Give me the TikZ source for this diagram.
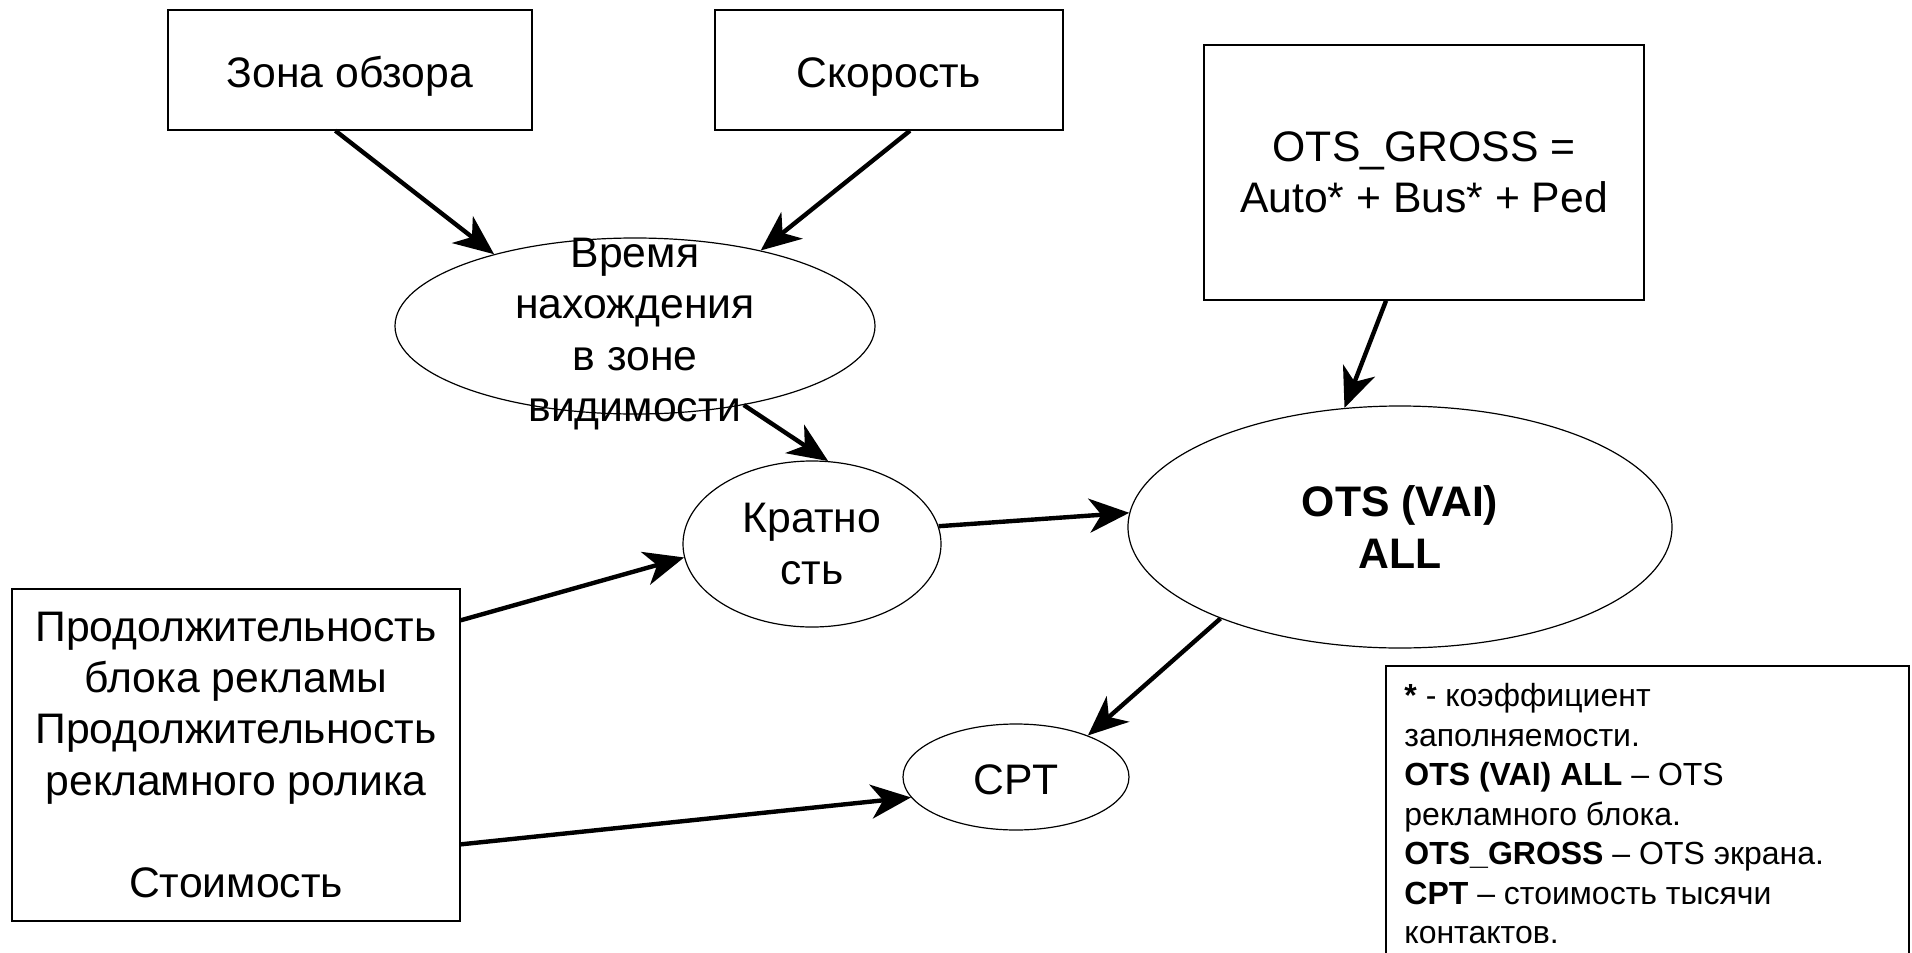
\documentclass[tikz,border=0pt]{standalone}
\usepackage{fontspec}
\setmainfont{Liberation Sans}
\usepackage{tikz}
\usetikzlibrary{shapes.geometric,arrows.meta,positioning,calc}
\tikzset{
  box/.style={draw,line width=0.7pt,rectangle,inner sep=0pt,align=center,font=\fontsize{21.35}{25.6}\selectfont},
  oval/.style={draw,line width=0.6pt,ellipse,inner sep=0pt,align=center,font=\fontsize{21.35}{25.6}\selectfont},
  ovaltext/.style={inner sep=0pt,align=center,font=\fontsize{21.35}{25.6}\selectfont},
  drop/.style={execute at begin node={\rule{0pt}{#1}}},
  legendtext/.style={inner sep=0pt,align=left,font=\fontsize{16}{19.75}\selectfont},
  flow/.style={line width=2.2pt,-{Stealth[length=20pt,width=17pt,inset=6pt]}},
}
\newcommand{\flowarrow}[2]{\draw[flow] #1 -- #2;}

\begin{document}
\begin{tikzpicture}[x=0.5pt,y=-0.5pt]
\useasboundingbox (0,0) rectangle (1912,953);
\node[box,drop=21.5pt,minimum width=182pt,minimum height=60pt] (zona) at (350,70) {Зона обзора};
\node[box,drop=21.5pt,minimum width=174pt,minimum height=60pt] (skorost) at (889,70) {Скорость};
\node[box,drop=17.7pt,minimum width=220pt,minimum height=127.5pt] (gross) at (1424,172.5) {OTS\_GROSS =\\Auto* + Bus* + Ped};
\node[box,drop=17pt,minimum width=224pt,minimum height=166pt] (prodol) at (236,755) {Продолжительность\\блока рекламы\\Продолжительность\\рекламного ролика\\[25.6pt]Стоимость};
\node[oval,minimum width=240pt,minimum height=88pt] (vremya) at (635,326) {};
\node[ovaltext] (vremyatxt) at (635,334) {Время\\нахождения\\в зоне\\видимости};
\node[oval,drop=17.7pt,minimum width=129pt,minimum height=83pt] (kratnost) at (812,544) {Кратно\\сть};
\node[oval,drop=17.7pt,minimum width=272pt,minimum height=121pt,font=\fontsize{21.35}{25.6}\selectfont\bfseries] (ots) at (1400,527) {OTS (VAI)\\ALL};
\node[oval,drop=17.7pt,minimum width=113pt,minimum height=53pt] (cpt) at (1016,777) {CPT};
\draw[line width=0.7pt] (1386,666) rectangle (1909,1000);
\node[legendtext,anchor=north west] (legend) at (1404,683) {\textbf{*} - коэффициент\\
заполняемости.\\
\textbf{OTS (VAI) ALL} – OTS\\
рекламного блока.\\
\textbf{OTS\_GROSS} – OTS экрана.\\
\textbf{CPT} – стоимость тысячи\\
контактов.};
\flowarrow{($(zona.south west)!0.46!(zona.south east)$)}{(vremya.153)}
\flowarrow{($(skorost.south west)!0.56!(skorost.south east)$)}{(vremya.31)}
\flowarrow{($(gross.south west)!0.414!(gross.south east)$)}{(ots.115)}
\flowarrow{(vremya.-36)}{(kratnost.79)}
\flowarrow{($(prodol.north east)!0.096!(prodol.south east)$)}{(kratnost.186)}
\flowarrow{(kratnost.8)}{(ots.177)}
\flowarrow{(ots.-153)}{(cpt.30)}
\flowarrow{($(prodol.north east)!0.768!(prodol.south east)$)}{(cpt.191)}
\end{tikzpicture}
\end{document}
